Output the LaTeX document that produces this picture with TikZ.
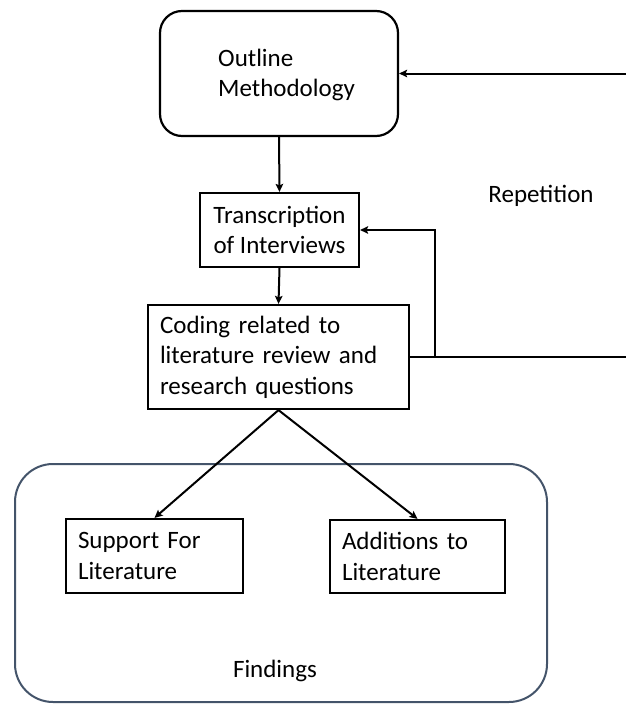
\documentclass[tikz,border=0pt]{standalone}
\usepackage{fontspec}
\setmainfont{Carlito}
\usetikzlibrary{arrows.meta}
\definecolor{groupline}{RGB}{68,84,106}
\begin{document}
\begin{tikzpicture}[x=1pt,y=-1pt,
  txt/.style={font=\fontsize{25}{30.5}\selectfont, inner sep=0pt},
  box/.style={draw=black, line width=2.2pt, inner sep=0pt, txt},
  leftbox/.style={box, align=left, inner xsep=12pt, text width=#1},
  group/.style={draw=groupline, line width=2pt, rounded corners=38pt, inner sep=0pt},
  link/.style={draw=black, line width=2pt},
  arr/.style={link, -{Stealth[length=8pt,width=7.5pt,inset=1.5pt]}}
]
\useasboundingbox (0,0) rectangle (626,704);

% grouping frame for the results
\node[group, minimum width=532pt, minimum height=238pt] (findings) at (281,583) {};
\node[txt, anchor=base] (findlbl) at (275,677) {Findings};

% process steps
\node[box, rounded corners=22pt, minimum width=238pt, minimum height=125pt] (outline) at (279,73.5) {};
\node[txt, anchor=west, align=left] (outlinelbl) at (218,75) {Outline\\Methodology};

\node[box, align=center, minimum width=159pt, minimum height=74pt] (trans) at (279.5,230)
  {Transcription\\of Interviews};

\node[leftbox=237pt, minimum height=104pt] (coding) at (278.5,357)
  {Coding related to\\literature review and\\research questions};

\node[leftbox=153pt, minimum height=74pt] (support) at (154.5,556)
  {Support For\\Literature};
\node[leftbox=151pt, minimum height=73pt] (adds) at (417.5,556.5)
  {Additions to\\Literature};

\node[txt, anchor=base] (rep) at (541,202) {Repetition};

% main flow
\draw[arr] (outline.south) -- (trans.north);
\draw[arr] (trans.south) -- (coding.north);
\draw[arr] (coding.south) -- (support.north);
\draw[arr] (coding.south) -- (adds.north);

% repetition loop
\coordinate (loopend) at (626,357);
\coordinate (looptop) at (626,73.5);
\coordinate (branch) at (435,357);
\draw[link] (coding.east) -- (loopend);
\draw[arr] (branch) |- (trans.east);
\draw[arr] (looptop) -- (outline.east);
\end{tikzpicture}
\end{document}
